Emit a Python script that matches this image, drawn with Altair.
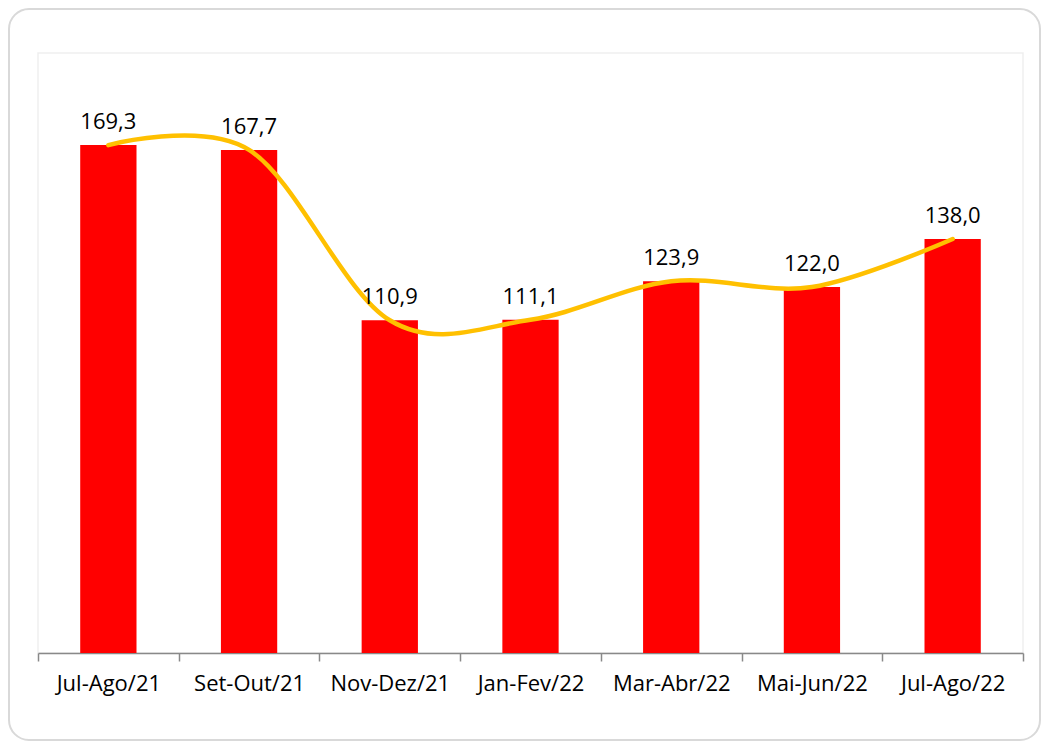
import altair as alt
import pandas as pd

categories = ["Jul-Ago/21", "Set-Out/21", "Nov-Dez/21", "Jan-Fev/22",
              "Mar-Abr/22", "Mai-Jun/22", "Jul-Ago/22"]
values = [169.3, 167.7, 110.9, 111.1, 123.9, 122.0, 138.0]
labels = ["169,3", "167,7", "110,9", "111,1", "123,9", "122,0", "138,0"]

df = pd.DataFrame({"cat": categories, "val": values, "lab": labels})

FONT = "Open Sans"
W, H = 985, 600
PAD = {"left": 30, "top": 45, "right": 18, "bottom": 88}

x = alt.X("cat:N", sort=categories, title=None,
          scale=alt.Scale(paddingInner=0, paddingOuter=0),
          axis=alt.Axis(tickBand="extent", domainColor="#898989",
                        tickColor="#898989", tickSize=8, domainWidth=1.5,
                        tickWidth=1.5, labelFont=FONT, labelFontSize=22,
                        labelColor="#000000", labelPadding=12, labelAngle=0))
y = alt.Y("val:Q", title=None, scale=alt.Scale(domain=[0, 200]), axis=None)

base = alt.Chart(df)

bars = base.mark_bar(color="#FF0000", width={"band": 0.4}).encode(x=x, y=y)

line = base.mark_line(color="#FFC000", strokeWidth=4.5, interpolate="cardinal",
                      strokeCap="round").encode(x=x, y=y)

text = base.mark_text(baseline="alphabetic", dy=-16, font=FONT, fontSize=22,
                      color="#000000").encode(x=x, y=y, text="lab:N")

svg_w = PAD["left"] + W + PAD["right"]
svg_h = PAD["top"] + H + PAD["bottom"]
frame = alt.Chart(alt.Data(values=[{}])).mark_rect(
    fillOpacity=0, stroke="#d9d9d9", strokeWidth=2, cornerRadius=20
).encode(
    x=alt.value(-PAD["left"] + 1),
    x2=alt.value(svg_w - PAD["left"] - 1),
    y=alt.value(-PAD["top"] + 1),
    y2=alt.value(svg_h - PAD["top"] - 1),
)

chart = alt.layer(frame, bars, line, text).properties(
    width=W, height=H,
    autosize=alt.AutoSizeParams(type="none"),
    padding=PAD,
    background="#ffffff",
).configure_view(stroke="#efefef", strokeWidth=1.5)

chart.save("out.html", embed_options={"renderer": "svg", "actions": False})
